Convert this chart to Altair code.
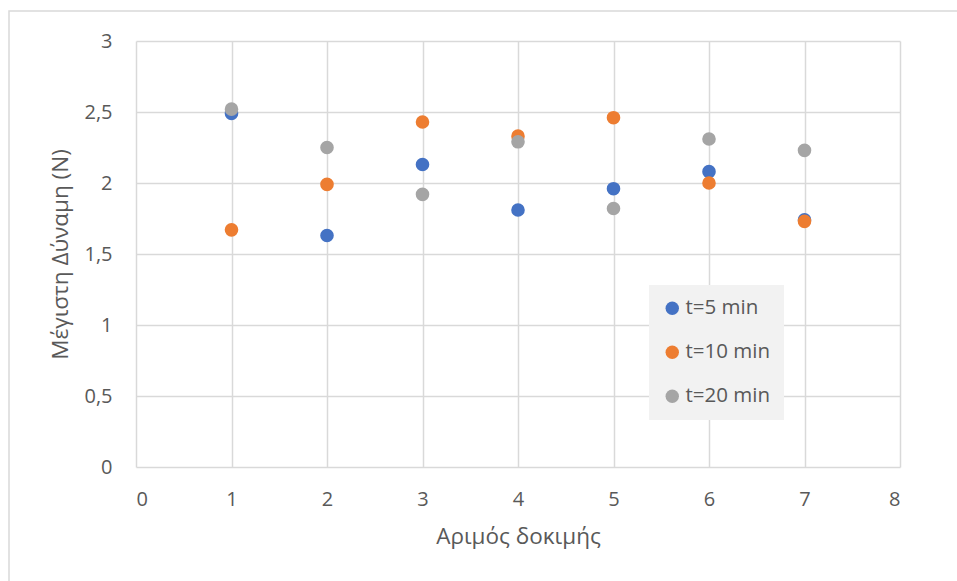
import altair as alt
import pandas as pd

# Maximum force per trial for three immersion times
trials = [1, 2, 3, 4, 5, 6, 7]
force_5min = [2.49, 1.63, 2.13, 1.81, 1.96, 2.08, 1.74]
force_10min = [1.67, 1.99, 2.43, 2.33, 2.46, 2.00, 1.73]
force_20min = [2.52, 2.25, 1.92, 2.29, 1.82, 2.31, 2.23]
series_names = ["t=5 min", "t=10 min", "t=20 min"]
series_colors = ["#4472C4", "#ED7D31", "#A5A5A5"]
x_ticks = [0, 1, 2, 3, 4, 5, 6, 7, 8]
y_ticks = [0, 0.5, 1, 1.5, 2, 2.5, 3]

rows = []
for order, (name, values) in enumerate(zip(series_names, [force_5min, force_10min, force_20min])):
    for t, v in zip(trials, values):
        rows.append({"trial": t, "force": v, "series": name, "order": order})
df = pd.DataFrame(rows)

FONT = "Open Sans"
W, H = 764, 426
comma_label = "replace(format(datum.value, '~g'), '.', ',')"

points = alt.Chart(df).mark_circle(size=185, opacity=1).encode(
    x=alt.X("trial:Q", scale=alt.Scale(domain=[0, 8], nice=False),
            axis=alt.Axis(values=x_ticks, title="Αριμός δοκιμής", labelExpr=comma_label)),
    y=alt.Y("force:Q", scale=alt.Scale(domain=[0, 3], nice=False),
            axis=alt.Axis(values=y_ticks, title="Μέγιστη Δύναμη (N)", labelExpr=comma_label)),
    color=alt.Color("series:N",
                    scale=alt.Scale(domain=series_names, range=series_colors),
                    sort=series_names,
                    legend=alt.Legend(title=None, orient="none", legendX=513, legendY=244,
                                      fillColor="#F2F2F2", padding=13, rowPadding=23,
                                      symbolType="circle", symbolSize=180,
                                      symbolStrokeWidth=0, labelFont=FONT,
                                      labelFontSize=20.5, labelColor="#595959",
                                      labelOffset=3, symbolOpacity=1)),
    order=alt.Order("order:Q"),
)

# Outer chart frame
frame = alt.Chart(pd.DataFrame({"k": [0]})).mark_rect(
    fill=None, stroke="#D9D9D9", strokeWidth=1.5
).encode(x=alt.value(-127), x2=alt.value(W + 80), y=alt.value(-30), y2=alt.value(H + 140))

chart = alt.layer(frame, points).properties(
    width=W, height=H,
    autosize=alt.AutoSizeParams(type="none"),
    padding={"left": 136, "top": 41, "right": 57, "bottom": 114},
    background="white",
).configure_view(stroke=None).configure_axis(
    grid=True, gridColor="#D9D9D9", gridWidth=1.5,
    domain=False, ticks=False,
    labelFont=FONT, labelFontSize=20, labelColor="#595959",
    titleFont=FONT, titleFontSize=22.5, titleColor="#595959", titleFontWeight="normal",
).configure_axisX(
    labelPadding=22, titlePadding=16,
).configure_axisY(
    labelPadding=24, titlePadding=11,
)

chart.save("out.html", embed_options={"renderer": "svg", "actions": False})
